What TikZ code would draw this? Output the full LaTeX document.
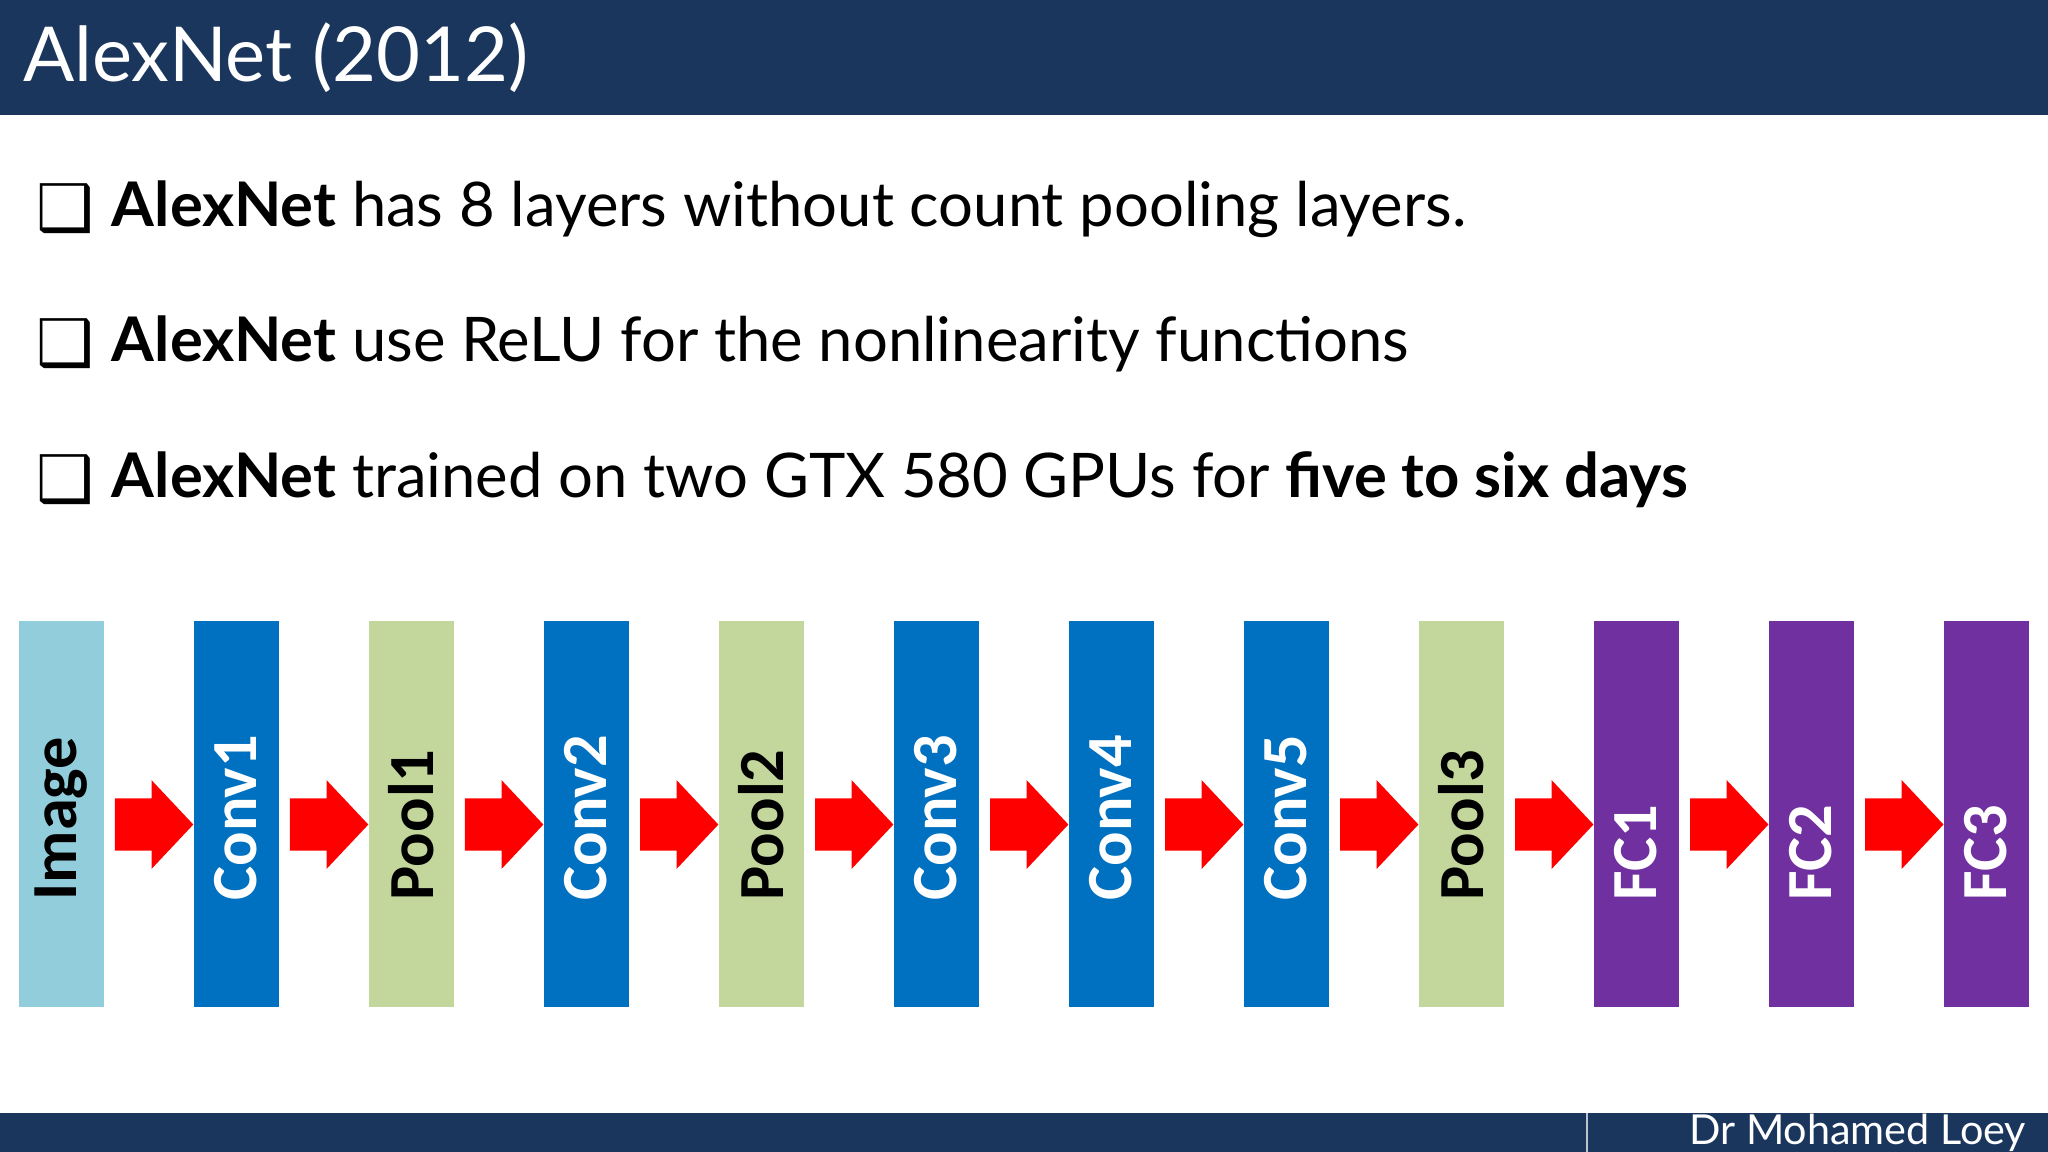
\documentclass[tikz,border=0pt]{standalone}
\usepackage{fontspec}
\setmainfont{Lato}
\newfontfamily\boxfont{Carlito}
\newfontfamily\symfont{DejaVu Sans}
\definecolor{navy}{HTML}{1B365D}
\definecolor{cimg}{HTML}{92CDDC}
\definecolor{cconv}{HTML}{0070C0}
\definecolor{cpool}{HTML}{C3D69B}
\definecolor{cfc}{HTML}{7030A0}
\tikzset{
 layer/.style={minimum width=0.65cm,minimum height=2.95cm,inner sep=0pt,anchor=north west},
 lab/.style={rotate=90,anchor=west,font=\boxfont\bfseries\fontsize{14}{14}\selectfont,inner sep=0pt},
 redarrow/.style={fill=red,draw=none},
 bullet/.style={anchor=west,font=\fontsize{13.4}{13.4}\selectfont,inner sep=0pt}
}
\begin{document}
\begin{tikzpicture}[x=0.01cm,y=-0.01cm]
\useasboundingbox (0,0) rectangle (1568,882);
\fill[white] (0,0) rectangle (1568,882);
\fill[navy] (0,0) rectangle (1568,88);
\node[anchor=west,text=white,font=\fontsize{16.5}{16.5}\selectfont,inner sep=0pt] (title) at (17,44) {AlexNet (2012)};
\fill[navy] (0,852) rectangle (1568,882);
\draw[white!70!navy,line width=0.4pt] (1215,852) -- (1215,882);
\node[anchor=east,text=white,font=\fontsize{9}{9}\selectfont,inner sep=0pt] (auth) at (1552,867) {Dr Mohamed Loey};
\foreach \y/\n in {160/b1,263/b2,367/b3}{
  \node[anchor=center,inner sep=0pt,font=\symfont\fontsize{14}{14}\selectfont] (\n s) at (50,\y) {❑};
}
\node[bullet] (b1) at (85,160) {\textbf{AlexNet} has 8 layers without count pooling layers.};
\node[bullet] (b2) at (85,263) {\textbf{AlexNet} use ReLU for the nonlinearity functions};
\node[bullet] (b3) at (85,367) {\textbf{AlexNet} trained on two GTX 580 GPUs for \textbf{five to six days}};
\foreach \i/\c/\t/\tc in {0/cimg/Image/black,1/cconv/Conv1/white,2/cpool/Pool1/black,3/cconv/Conv2/white,4/cpool/Pool2/black,5/cconv/Conv3/white,6/cconv/Conv4/white,7/cconv/Conv5/white,8/cpool/Pool3/black,9/cfc/FC1/white,10/cfc/FC2/white,11/cfc/FC3/white}{
  \node[layer,fill=\c] (L\i) at ({14+134*\i},475) {};
  \node[lab,text=\tc] (T\i) at ({46.5+134*\i},690) {\t};
}
\foreach \i [evaluate=\i as \j using int(\i+1)] in {0,...,10}{
  \coordinate (tip\i) at ([yshift=-0.08cm]L\j.west);
  \fill[redarrow] (tip\i) -- ++(-32,-34) -- ++(0,14) -- ++(-28,0) -- ++(0,40) -- ++(28,0) -- ++(0,14) -- cycle;
}
\end{tikzpicture}
\end{document}
